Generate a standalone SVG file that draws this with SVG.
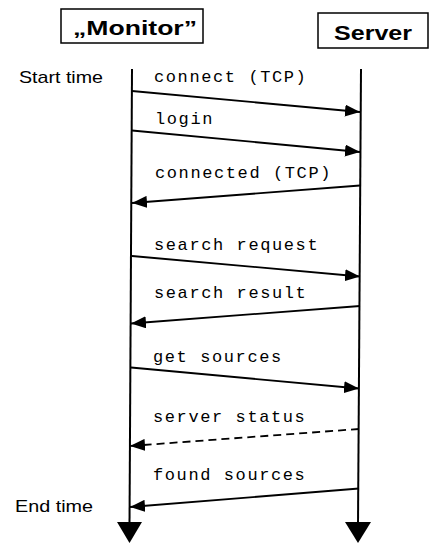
<svg xmlns="http://www.w3.org/2000/svg" width="431" height="543" viewBox="0 0 431 543">
<style>
.box{fill:#fff;stroke:#000;stroke-width:1.5}
.title{font-family:"Liberation Sans",Arial,sans-serif;font-weight:bold;font-size:21px;fill:#000}
.side{font-family:"Liberation Sans",Arial,sans-serif;font-size:17px;fill:#000}
.msg{font-family:"Liberation Mono","Courier New",monospace;font-size:17px;letter-spacing:1.6px;fill:#000}
.life{stroke:#000;stroke-width:2;fill:none}
.arr{stroke:#000;stroke-width:1.8;fill:none;marker-end:url(#ah)}
.dash{stroke-dasharray:8,5}
</style>
<defs>
<marker id="ah" markerUnits="userSpaceOnUse" markerWidth="16" markerHeight="12" refX="15" refY="6" orient="auto">
<path d="M0,0 L15,6 L0,12 z" fill="#000"/>
</marker>
</defs>
<rect width="431" height="543" fill="#fff"/>
<g id="monitor">
<rect class="box" x="61" y="9" width="142" height="34"/>
<text class="title" x="73" y="35" textLength="124" lengthAdjust="spacingAndGlyphs">„Monitor”</text>
<line class="life" x1="132" y1="69" x2="129.5" y2="525"/>
<path d="M117,522 L142,522 L129.5,543 z" fill="#000"/>
</g>
<g id="server">
<rect class="box" x="318" y="13" width="110" height="35"/>
<text class="title" x="334" y="40" textLength="78" lengthAdjust="spacingAndGlyphs">Server</text>
<line class="life" x1="361" y1="69" x2="358" y2="525"/>
<path d="M345,522 L371,522 L358,543 z" fill="#000"/>
</g>
<g id="labels">
<text class="side" x="19" y="83" textLength="84" lengthAdjust="spacingAndGlyphs">Start time</text>
<text class="side" x="15" y="512" textLength="78" lengthAdjust="spacingAndGlyphs">End time</text>
</g>
<g id="connectors">
<line class="arr" x1="132" y1="91" x2="360" y2="112"/>
<text class="msg" x="154" y="82">connect (TCP)</text>
<line class="arr" x1="132" y1="130.5" x2="360" y2="152"/>
<text class="msg" x="155" y="124">login</text>
<line class="arr" x1="360" y1="185.5" x2="132" y2="203"/>
<text class="msg" x="155" y="178">connected (TCP)</text>
<line class="arr" x1="132" y1="256" x2="360" y2="276.5"/>
<text class="msg" x="154" y="250">search request</text>
<line class="arr" x1="360" y1="306" x2="131" y2="323.5"/>
<text class="msg" x="154" y="298">search result</text>
<line class="arr" x1="131" y1="367.5" x2="359" y2="388.5"/>
<text class="msg" x="153" y="362">get sources</text>
<line class="arr dash" x1="359" y1="429" x2="130" y2="446"/>
<text class="msg" x="153" y="422">server status</text>
<line class="arr" x1="359" y1="488.5" x2="130" y2="507"/>
<text class="msg" x="153" y="480">found sources</text>
</g>
</svg>
